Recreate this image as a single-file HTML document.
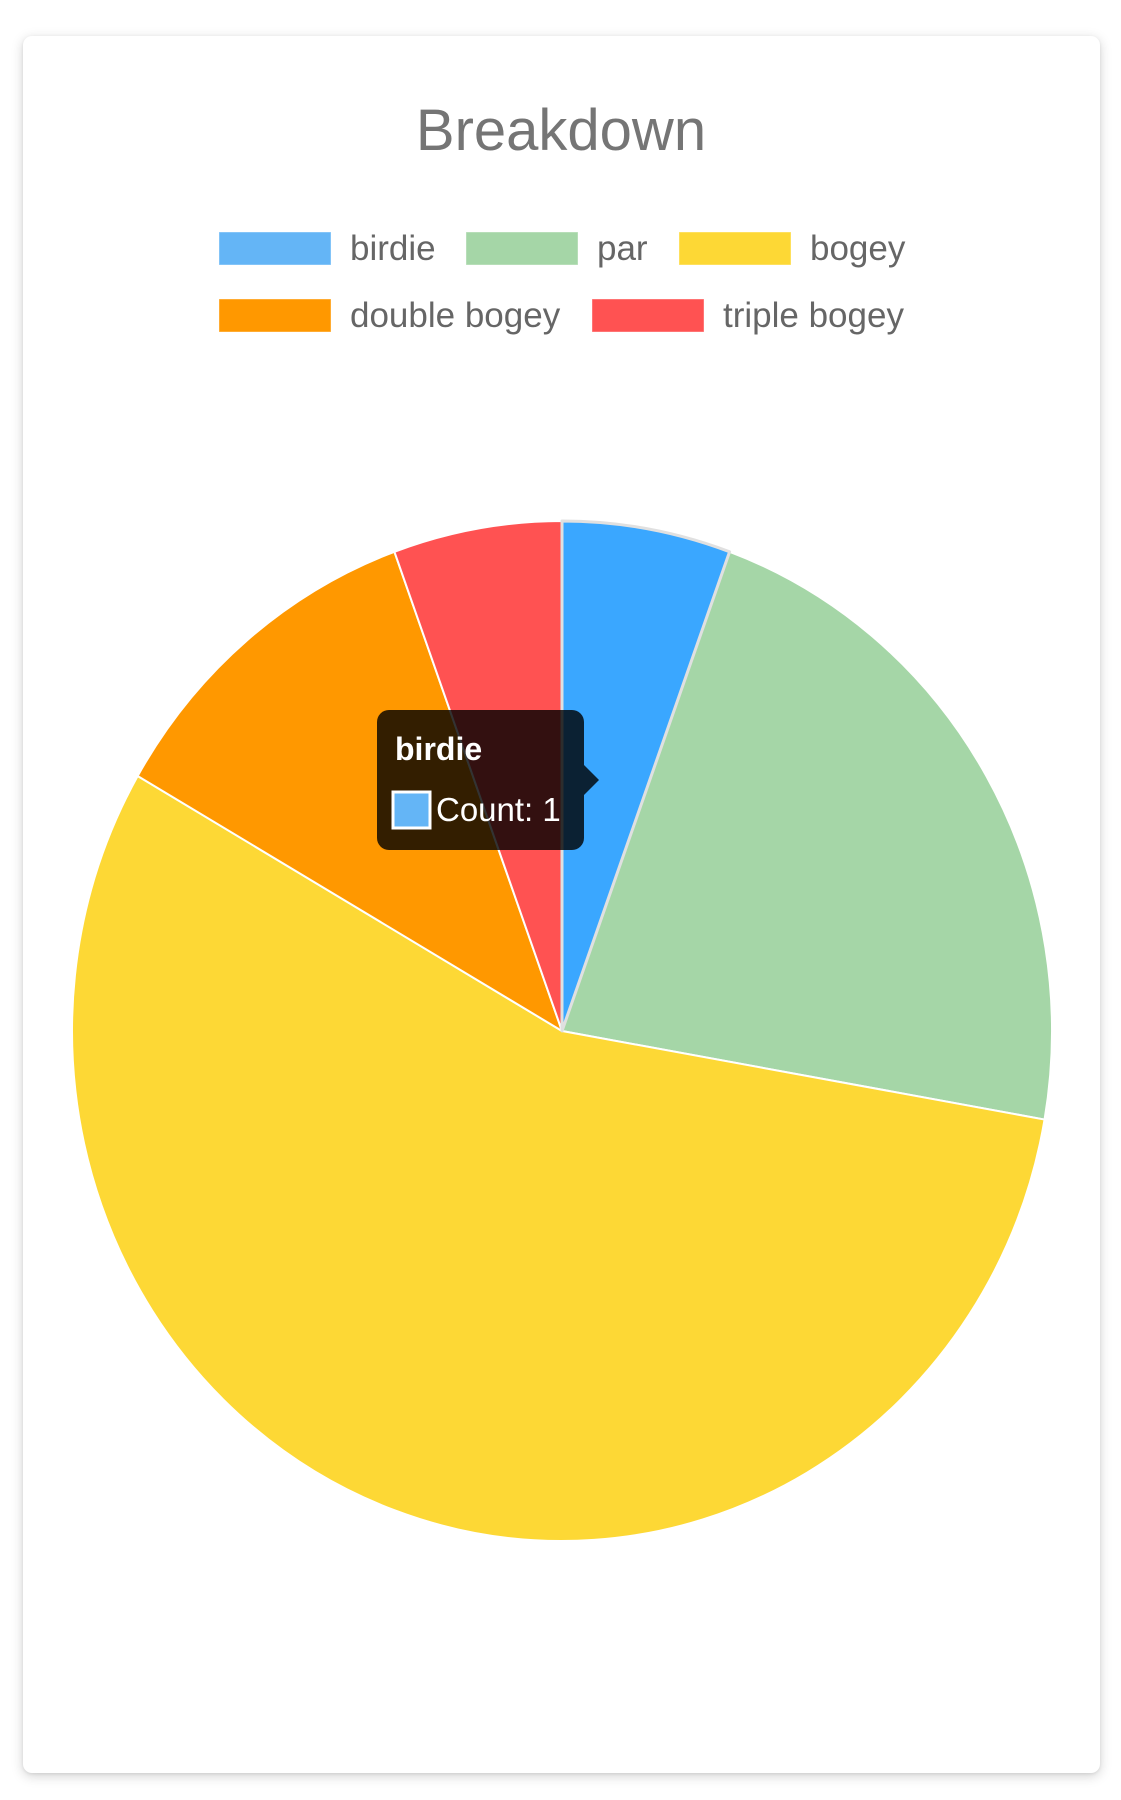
<!DOCTYPE html>
<html><head><meta charset="utf-8">
<style>
html,body{margin:0;padding:0;background:#fff;width:1121px;height:1800px;overflow:hidden;font-family:"Liberation Sans",sans-serif;}
#card{position:absolute;left:23px;top:36px;width:1077px;height:1737px;background:#fff;border-radius:9px;box-shadow:0 3px 12px rgba(0,0,0,0.18),0 1px 3px rgba(0,0,0,0.08);}
svg{position:absolute;left:0;top:0;}
</style></head>
<body>
<div id="card"></div>
<svg id="chart" width="1121" height="1800">
  <text x="561" y="150" text-anchor="middle" font-size="58" fill="#757575">Breakdown</text>
  <g id="legend"></g>
  <g id="slices"></g>
  <g id="tooltip">
    <rect x="377" y="710" width="207" height="140" rx="12" fill="rgba(0,0,0,0.8)"/>
    <path d="M584,765 L599,780 L584,795 Z" fill="rgba(0,0,0,0.8)"/>
    <text x="395" y="760" font-size="32" font-weight="bold" fill="#fff">birdie</text>
    <rect x="393" y="792" width="37" height="36" fill="#64b5f6" stroke="#fff" stroke-width="3"/>
    <text x="436" y="821" font-size="33" fill="#fff">Count: 1</text>
  </g>
</svg>
<script>
const categories = ["birdie","par","bogey","double bogey","triple bogey"];
const counts = [1,4,10,2,1];
const colors = ["#64b5f6","#a5d6a7","#fdd835","#ff9800","#ff5252"];
const sliceColors = ["#3aa7ff","#a5d6a7","#fdd835","#ff9800","#ff5252"];

const cx=562, cy=1031, rx=490, ry=510;
const NS="http://www.w3.org/2000/svg";
const total=counts.reduce((a,b)=>a+b,0);
function pt(a){return [cx+rx*Math.sin(a), cy-ry*Math.cos(a)];}
const sg=document.getElementById('slices');
let acc=0;
counts.forEach((v,i)=>{
  const a0=acc/total*2*Math.PI; acc+=v; const a1=acc/total*2*Math.PI;
  const p0=pt(a0), p1=pt(a1);
  const large=(a1-a0)>Math.PI?1:0;
  const p=document.createElementNS(NS,'path');
  p.setAttribute('d',`M${cx},${cy} L${p0[0]},${p0[1]} A${rx},${ry} 0 ${large} 1 ${p1[0]},${p1[1]} Z`);
  p.setAttribute('fill',sliceColors[i]);
  p.setAttribute('stroke', i===0?'#e0e0e0':'#fff');
  p.setAttribute('stroke-width', i===0?'3':'2');
  p.setAttribute('stroke-linejoin','round');
  
  
  sg.appendChild(p);
});
sg.appendChild(sg.firstChild);

const lg=document.getElementById('legend');
const legendPos=[[219,232],[466,232],[679,232],[219,299],[592,299]];
categories.forEach((c,i)=>{
  const g=document.createElementNS(NS,'g');
  
  
  const r=document.createElementNS(NS,'rect');
  r.setAttribute('x',legendPos[i][0]); r.setAttribute('y',legendPos[i][1]);
  r.setAttribute('width',112); r.setAttribute('height',33);
  r.setAttribute('fill',colors[i]); r.setAttribute('stroke','rgba(255,255,255,0.4)');
  const t=document.createElementNS(NS,'text');
  t.setAttribute('x',legendPos[i][0]+131); t.setAttribute('y',legendPos[i][1]+28);
  t.setAttribute('font-size','35'); t.setAttribute('fill','#666');
  t.textContent=c;
  g.appendChild(r); g.appendChild(t); lg.appendChild(g);
});
</script>
</body></html>
